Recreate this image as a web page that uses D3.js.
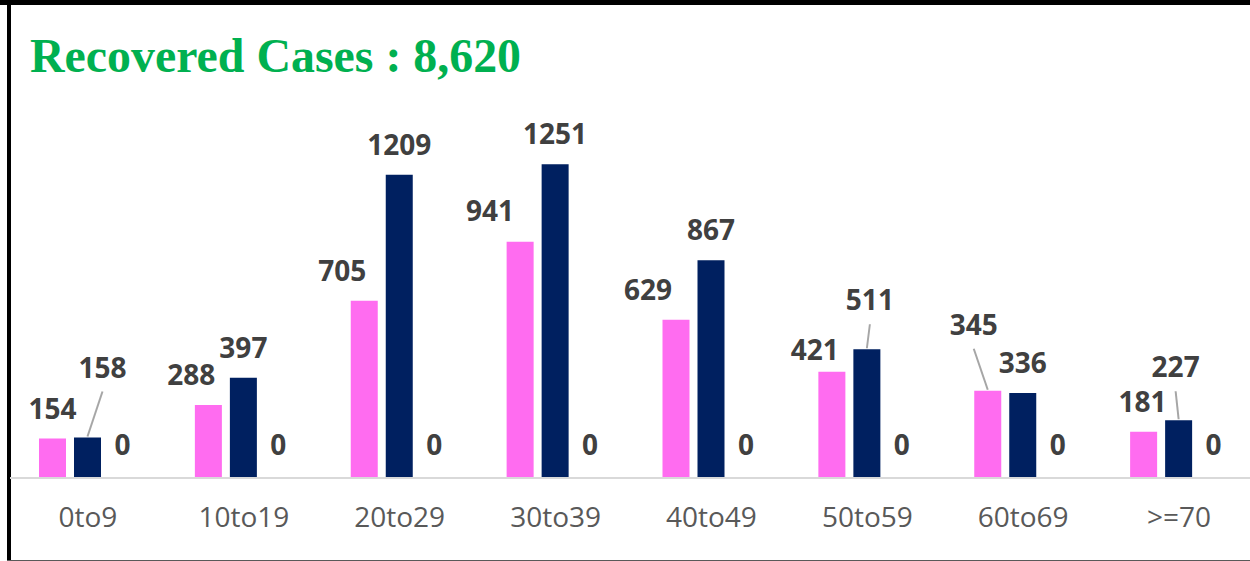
<!DOCTYPE html>
<html>
<head>
<meta charset="utf-8">
<script src="https://cdn.jsdelivr.net/npm/d3@7"></script>
<style>
  body { margin: 0; background: #fff; }
  .title-text { font-family: "Liberation Serif", "Times New Roman", serif; font-weight: bold; fill: #00b050; }
  .value-text { font-family: "Open Sans", sans-serif; font-weight: 700; fill: #404040; }
  .axis-text { font-family: "Open Sans", sans-serif; fill: #595959; }
</style>
</head>
<body>
<div id="chart"></div>
<script>
const ageGroups = ["0to9", "10to19", "20to29", "30to39", "40to49", "50to59", "60to69", ">=70"];
const femaleCases = [154, 288, 705, 941, 629, 421, 345, 181];
const maleCases = [158, 397, 1209, 1251, 867, 511, 336, 227];
const otherCases = [0, 0, 0, 0, 0, 0, 0, 0];
const titleText = "Recovered Cases : 8,620";

// label nudges (dx, dy) from the default "outside end" spot; big moves get a leader line
const labelNudge = {
  "female-10to19": [-17, 0],
  "female-20to29": [-22, 0],
  "female-30to39": [-30, -1],
  "female-40to49": [-28, 0],
  "female-50to59": [-17, 8],
  "female-60to69": [-14, -36],
  "female->=70": [-1, 0],
  "male-0to9": [15, -40],
  "male-50to59": [3, -19],
  "male->=70": [-3, -23]
};

const width = 1250, height = 561;
const baseline = 477;

const svg = d3.select("#chart")
  .append("svg")
  .attr("width", width)
  .attr("height", height);

const series = [
  { key: "female", values: femaleCases, color: "#ff6cf0" },
  { key: "male", values: maleCases, color: "#002060" },
  { key: "other", values: otherCases, color: "#a5a5a5" }
];

const x0 = d3.scaleBand()
  .domain(ageGroups)
  .range([10, 1257]);

const x1 = d3.scaleBand()
  .domain(series.map(s => s.key))
  .range([29, 126])
  .paddingInner(0.2286);

const y = d3.scaleLinear()
  .domain([0, 1400])
  .range([baseline, baseline - 350]);

// Frame
svg.append("rect").attr("x", 0).attr("y", 0).attr("width", width).attr("height", 5).attr("fill", "#000");
svg.append("rect").attr("x", 7).attr("y", 0).attr("width", 4).attr("height", height).attr("fill", "#000");
svg.append("line")
  .attr("x1", 7).attr("x2", width)
  .attr("y1", 560.5).attr("y2", 560.5)
  .attr("stroke", "#595959").attr("stroke-width", 1);

// Title
svg.append("text")
  .attr("class", "title-text")
  .attr("x", 30)
  .attr("y", 72)
  .attr("font-size", 48)
  .attr("textLength", 491)
  .attr("lengthAdjust", "spacingAndGlyphs")
  .text(titleText);

// Bars
series.forEach(s => {
  svg.selectAll(`.bar-${s.key}`)
    .data(ageGroups.map((g, i) => ({ group: g, value: s.values[i] })))
    .enter()
    .append("rect")
    .attr("class", `bar-${s.key}`)
    .attr("x", d => x0(d.group) + x1(s.key))
    .attr("y", d => y(d.value))
    .attr("width", x1.bandwidth())
    .attr("height", d => baseline - y(d.value))
    .attr("fill", s.color);
});

// Category axis
svg.append("line")
  .attr("x1", 10).attr("x2", width)
  .attr("y1", baseline + 1).attr("y2", baseline + 1)
  .attr("stroke", "#d9d9d9").attr("stroke-width", 2);

svg.selectAll(".cat-label")
  .data(ageGroups)
  .enter()
  .append("text")
  .attr("class", "axis-text")
  .attr("x", d => x0(d) + x0.bandwidth() / 2)
  .attr("y", 527)
  .attr("text-anchor", "middle")
  .attr("font-size", 28)
  .text(d => d);

// Value labels + leader lines
series.forEach(s => {
  ageGroups.forEach((g, i) => {
    const v = s.values[i];
    const cx = x0(g) + x1(s.key) + x1.bandwidth() / 2;
    const top = y(v);
    const nudge = labelNudge[`${s.key}-${g}`] || [0, 0];
    const lx = cx + nudge[0];
    const ly = top - (v === 0 ? 22 : 20) + nudge[1];

    if (nudge[1] < -15) {
      svg.append("line")
        .attr("x1", lx).attr("y1", ly + 14)
        .attr("x2", cx).attr("y2", top - 1)
        .attr("stroke", "#a6a6a6")
        .attr("stroke-width", 2);
    }

    svg.append("text")
      .attr("class", "value-text")
      .attr("x", lx)
      .attr("y", ly)
      .attr("text-anchor", "middle")
      .attr("font-size", 28)
      .text(v);
  });
});
</script>
</body>
</html>
